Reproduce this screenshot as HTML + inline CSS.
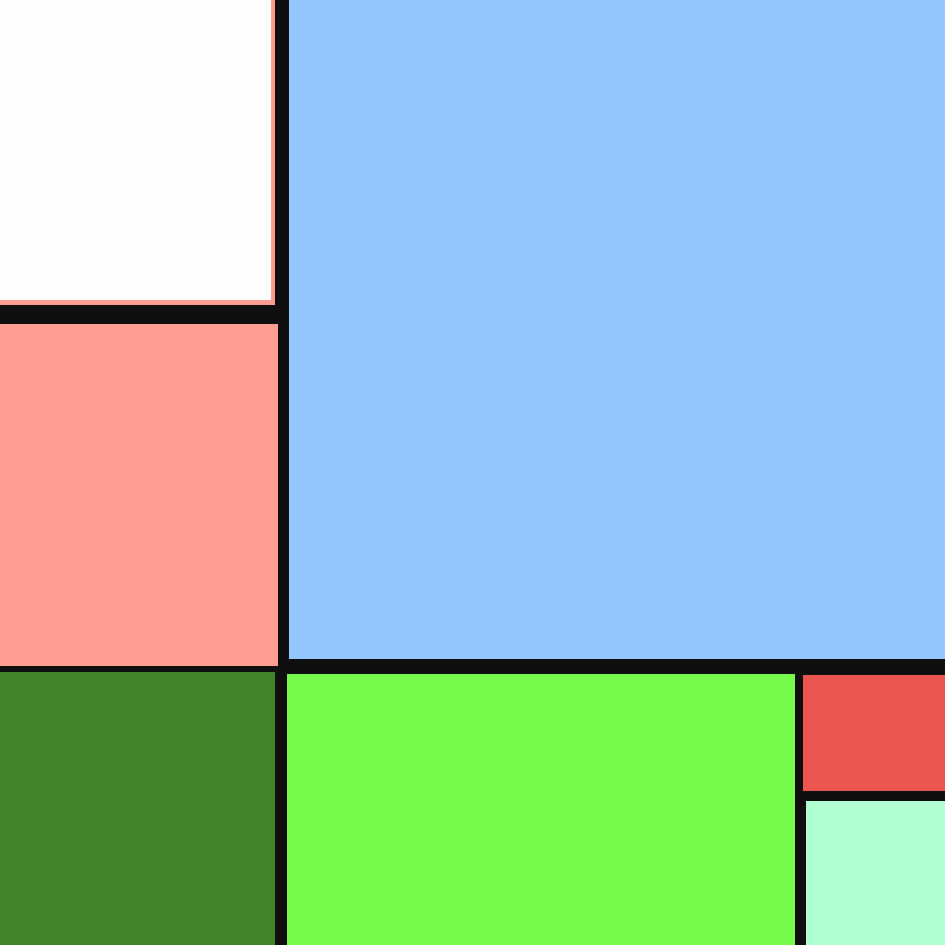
<!DOCTYPE html>
<html><head><meta charset="utf-8"><style>
html,body{margin:0;padding:0;}
body{width:945px;height:945px;position:relative;background:#0f0f0f;overflow:hidden;}
div.r{position:absolute;}
</style></head><body>
<div class="r" style="left:0;top:0;width:275px;height:305px;background:#ff9d93"></div>
<div class="r" style="left:0;top:0;width:271px;height:300px;background:#fdfdfd"></div>
<div class="r" style="left:289px;top:0;width:656px;height:659px;background:#95c7ff"></div>
<div class="r" style="left:0;top:324px;width:278px;height:342px;background:#ff9d93"></div>
<div class="r" style="left:0;top:672px;width:275px;height:273px;background:#40852a"></div>
<div class="r" style="left:287px;top:674px;width:508px;height:271px;background:#76fb4c"></div>
<div class="r" style="left:803px;top:675px;width:142px;height:116px;background:#ec5650"></div>
<div class="r" style="left:806px;top:801px;width:139px;height:144px;background:#b0ffd0"></div>
</body></html>
